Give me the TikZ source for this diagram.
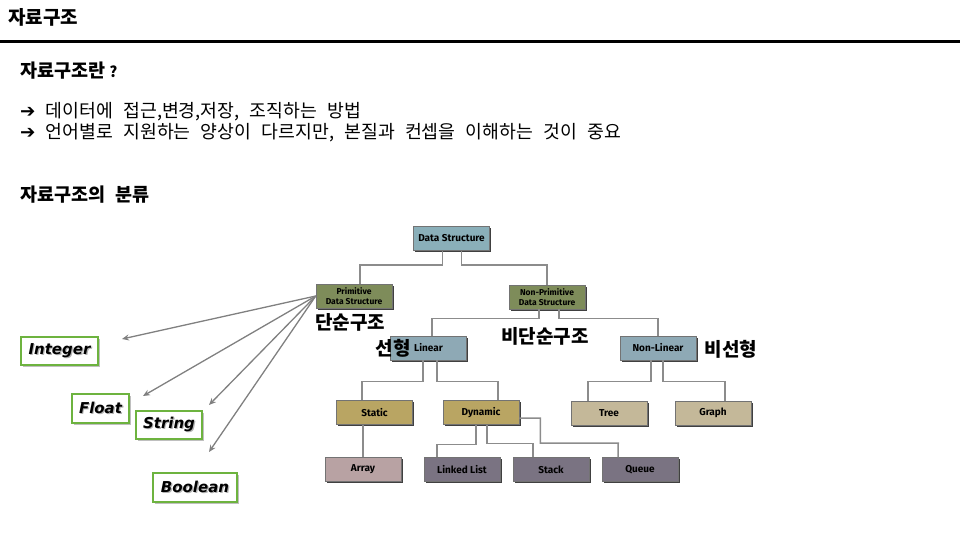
\documentclass[tikz,border=0pt]{standalone}
\usepackage{fontspec}
\usetikzlibrary{arrows.meta,shadows,calc}
\newfontfamily\kr{Noto Sans CJK KR}
\newfontfamily\krw{Noto Sans CJK KR}[WordSpace=2.5]
\newfontfamily\fira{Fira Sans}
\newfontfamily\dvs{DejaVu Sans}
\definecolor{dsblue}{HTML}{8AAFB9}
\definecolor{linblue}{HTML}{8EA9B5}
\definecolor{olive}{HTML}{7E8C5A}
\definecolor{khaki}{HTML}{B9A563}
\definecolor{tan}{HTML}{C4B899}
\definecolor{rose}{HTML}{B8A2A3}
\definecolor{plum}{HTML}{7A7382}
\definecolor{gborder}{HTML}{6DB33F}
\newcommand\shtxt[1]{\leavevmode\rlap{\kern1.2pt\raisebox{-1.2pt}{\textcolor{black!30}{#1}}}#1}
\begin{document}
\begin{tikzpicture}[x=1pt,y=-1pt,
  dbox/.style={rectangle, draw=black!55, line width=0.5pt, fill=#1,
    minimum width=76pt, minimum height=24pt, inner sep=0pt, align=center,
    font=\fira\bfseries\fontsize{10}{11}\selectfont,
    drop shadow={shadow xshift=1.8pt, shadow yshift=-1.8pt, fill=black!75, opacity=1}},
  gbox/.style={rectangle, draw=gborder, line width=1.2pt, fill=white,
    inner sep=0pt, font=\dvs\bfseries\itshape\fontsize{15}{16}\selectfont,
    drop shadow={shadow xshift=1.5pt, shadow yshift=-1.5pt, fill=black!25, opacity=1}},
  conn/.style={draw=black!45, line width=1.5pt},
  arr/.style={draw=black!50, line width=1.3pt, -{Stealth[length=7pt,width=6pt]}},
  krlab/.style={inner sep=0pt, font=\kr\bfseries\fontsize{19}{21}\selectfont},
  txt/.style={inner sep=0pt, anchor=west}
]
\useasboundingbox (0,0) rectangle (960,540);

% header
\node[txt, font=\kr\bfseries\fontsize{19}{21}\selectfont] (title) at (8,17.5) {자료구조};
\draw[line width=3pt] (0,41.5) -- (960,41.5);
\node[txt, font=\kr\bfseries\fontsize{18.5}{20}\selectfont] (q) at (20,71) {자료구조란\kern4pt{\fontsize{15}{16}\selectfont ?}};
\node[txt, font=\krw\fontsize{18.3}{20}\selectfont] (l1) at (20,112) {{\dvs ➔} 데이터에 접근,변경,저장, 조직하는 방법};
\node[txt, font=\krw\fontsize{18.3}{20}\selectfont] (l2) at (20,132.5) {{\dvs ➔} 언어별로 지원하는 양상이 다르지만, 본질과 컨셉을 이해하는 것이 중요};
\node[txt, font=\kr\bfseries\fontsize{18.5}{20}\selectfont] (cls) at (20,195) {자료구조의 분류};

% diagram boxes
\node[dbox=dsblue] (ds) at (451.5,238.5) {Data Structure};
\node[dbox=olive, font=\fira\bfseries\fontsize{8.5}{9.5}\selectfont] (prim) at (354,296) {Primitive\\Data Structure};
\node[dbox=olive, font=\fira\bfseries\fontsize{8.5}{9.5}\selectfont] (nprim) at (547,297) {Non-Primitive\\Data Structure};
\node[dbox=linblue] (lin) at (428.5,348) {Linear};
\node[dbox=linblue] (nlin) at (658,348) {Non-Linear};
\node[dbox=khaki] (stat) at (374.5,412.5) {Static};
\node[dbox=khaki] (dyn) at (481,412.5) {Dynamic};
\node[dbox=tan] (tree) at (609,413) {Tree};
\node[dbox=tan] (graph) at (713,413) {Graph};
\node[dbox=rose] (arr) at (363,469.5) {Array};
\node[dbox=plum] (ll) at (462,469.5) {Linked List};
\node[dbox=plum] (stk) at (551,469.5) {Stack};
\node[dbox=plum] (que) at (640,469.5) {Queue};

% connectors
\draw[conn] ([xshift=-9pt]ds.south) -- ++(0,14) -| ([xshift=6pt]prim.north);
\draw[conn] ([xshift=10pt]ds.south) -- ++(0,14) -| (nprim.north);
\draw[conn] ([xshift=-8pt]nprim.south) -- ++(0,9) -| ([xshift=3.5pt]lin.north);
\draw[conn] ([xshift=12pt]nprim.south) -- ++(0,9) -| (nlin.north);
\draw[conn] ([xshift=-5.5pt]lin.south) -- ++(0,21) -| ([xshift=-12.5pt]stat.north);
\draw[conn] ([xshift=8.5pt]lin.south) -- ++(0,21) -| ([xshift=17pt]dyn.north);
\draw[conn] ([xshift=-7pt]nlin.south) -- ++(0,21) -| ([xshift=-21pt]tree.north);
\draw[conn] ([xshift=5pt]nlin.south) -- ++(0,21) -| ([xshift=12pt]graph.north);
\draw[conn] ([xshift=-11.5pt]stat.south) -- (arr.north);
\draw[conn] ([xshift=-5pt]dyn.south) -- ++(0,19.5) -| ([xshift=-25pt]ll.north);
\draw[conn] ([xshift=6pt]dyn.south) -- ++(0,18.5) -| ([xshift=-18pt]stk.north);
\draw[conn] ([yshift=-5.5pt]dyn.east) -- ++(21,0) |- ++(78,25) -- ([xshift=-22pt]que.north);

% korean labels
\node[krlab] (l_simple) at (350,322) {단순구조};
\node[krlab] (l_nsimple) at (545,336) {비단순구조};
\node[krlab] (l_lin) at (393,348) {선형};
\node[krlab] (l_nlin) at (731,349) {비선형};

% green boxes
\node[gbox, minimum width=77pt, minimum height=28pt] (int) at (59.5,351) {\shtxt{Integer}};
\node[gbox, minimum width=57pt, minimum height=29pt] (flt) at (100.5,408.5) {\shtxt{Float}};
\node[gbox, minimum width=66pt, minimum height=28pt] (str) at (169,425) {\shtxt{String}};
\node[gbox, minimum width=84pt, minimum height=29pt] (bool) at (195,487.5) {\shtxt{Boolean}};

% arrows
\coordinate (e1) at (122,339);
\coordinate (e2) at (143,396);
\coordinate (e3) at (209,405);
\coordinate (e4) at (209,452);
\foreach \e in {e1,e2,e3,e4} \draw[arr] (prim.west) -- (\e);
\end{tikzpicture}
\end{document}
